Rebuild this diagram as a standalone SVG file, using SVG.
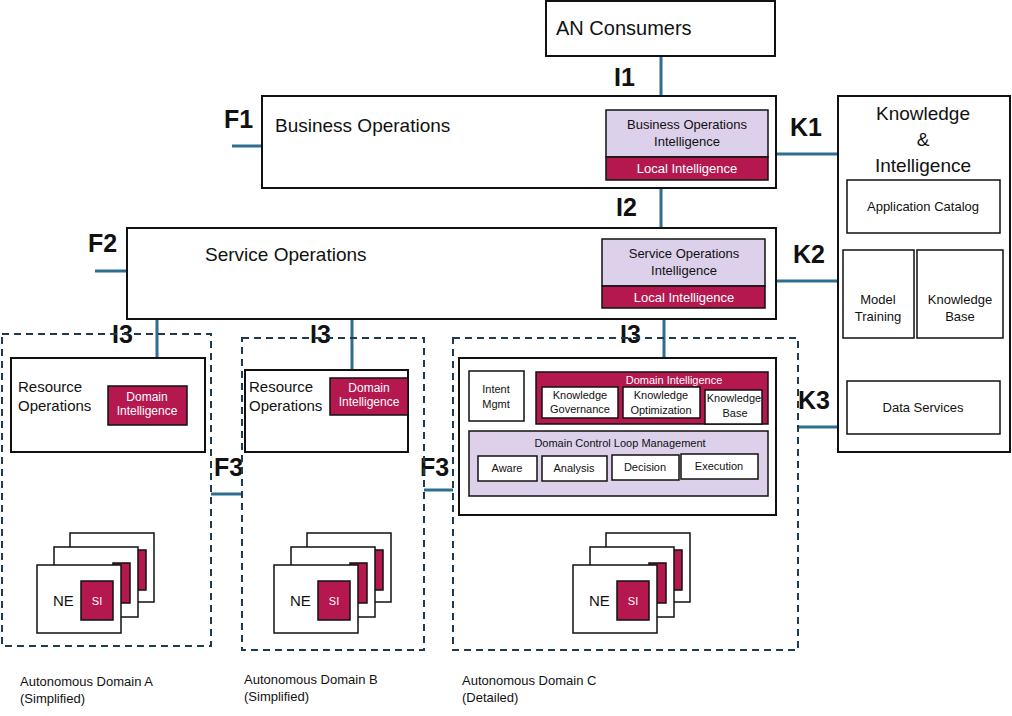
<svg xmlns="http://www.w3.org/2000/svg" width="1012" height="716" viewBox="0 0 1012 716">
<style>
text{font-family:"Liberation Sans",Arial,sans-serif;fill:#111}
.b{fill:#fff;stroke:#111;stroke-width:2}
.t{fill:#fff;stroke:#111;stroke-width:1.5}
.lav{fill:#dcd0ea;stroke:#111;stroke-width:1.5}
.cr{fill:#b5174f;stroke:#111;stroke-width:1.5}
.w{fill:#fff}
.d{fill:none;stroke:#1f3b4d;stroke-width:2;stroke-dasharray:7,5}
.c{stroke:#2e6e8e;stroke-width:3;fill:none}
.lb{font-weight:bold;font-size:25px}
.s{font-size:12px}
.m{font-size:13px}
</style>
<defs>
<g id="ne">
<rect class="t" x="33" y="0" width="84" height="69"/>
<rect class="cr" x="92" y="17" width="17" height="40"/>
<rect class="t" x="17" y="14" width="84" height="70"/>
<rect class="cr" x="76" y="30" width="17" height="40"/>
<rect class="t" x="0" y="32" width="84" height="68"/>
<rect class="cr" x="44" y="48" width="32" height="39"/>
<text x="16" y="73" font-size="15">NE</text>
<text x="60" y="72" font-size="11" class="w" text-anchor="middle">SI</text>
</g>
</defs>
<g id="connectors">
<path class="c" d="M661 56V96M661 188V228M232 146H262M95 271H127M776 154H838M776 281H838M157 319V358M352 319V370M664 319V358M798 427H838M211 494H242M424 490H453"/>
</g>
<g id="labels">
<text x="614" y="86" class="lb">I1</text>
<text x="616" y="216" class="lb">I2</text>
<text x="224" y="128" class="lb">F1</text>
<text x="88" y="252" class="lb">F2</text>
<text x="790" y="136" class="lb">K1</text>
<text x="793" y="263" class="lb">K2</text>
<text x="798" y="409" class="lb">K3</text>
<text x="112" y="343" class="lb">I3</text>
<text x="310" y="343" class="lb">I3</text>
<text x="620" y="343" class="lb">I3</text>
<text x="214" y="476" class="lb">F3</text>
<text x="420" y="476" class="lb">F3</text>
</g>
<g id="an-consumers"><rect class="b" x="546" y="1" width="229" height="55"/><text x="556" y="35" font-size="20">AN Consumers</text></g>
<g id="business-ops">
<rect class="b" x="262" y="96" width="514" height="92"/>
<text x="275" y="132" font-size="19">Business Operations</text>
<rect class="lav" x="606" y="110" width="162" height="47"/>
<text x="687" y="129" class="m" text-anchor="middle">Business Operations</text>
<text x="687" y="146" class="m" text-anchor="middle">Intelligence</text>
<rect class="cr" x="606" y="157" width="162" height="23"/>
<text x="687" y="173" class="m w" text-anchor="middle">Local Intelligence</text>
</g>
<g id="service-ops">
<rect class="b" x="127" y="228" width="649" height="91"/>
<text x="205" y="261" font-size="19">Service Operations</text>
<rect class="lav" x="602" y="239" width="163" height="47"/>
<text x="684" y="258" class="m" text-anchor="middle">Service Operations</text>
<text x="684" y="275" class="m" text-anchor="middle">Intelligence</text>
<rect class="cr" x="602" y="286" width="163" height="22"/>
<text x="684" y="302" class="m w" text-anchor="middle">Local Intelligence</text>
</g>
<g id="knowledge">
<rect class="b" x="838" y="96" width="172" height="356"/>
<text x="923" y="120" font-size="19" text-anchor="middle">Knowledge</text>
<text x="923" y="146" font-size="19" text-anchor="middle">&amp;</text>
<text x="923" y="172" font-size="19" text-anchor="middle">Intelligence</text>
<rect class="t" x="847" y="180" width="153" height="53"/>
<text x="923" y="211" class="m" text-anchor="middle">Application Catalog</text>
<rect class="t" x="843" y="250" width="71" height="88"/>
<text x="878" y="304" class="m" text-anchor="middle">Model</text>
<text x="878" y="321" class="m" text-anchor="middle">Training</text>
<rect class="t" x="917" y="250" width="86" height="88"/>
<text x="960" y="304" class="m" text-anchor="middle">Knowledge</text>
<text x="960" y="321" class="m" text-anchor="middle">Base</text>
<rect class="t" x="847" y="381" width="153" height="53"/>
<text x="923" y="412" class="m" text-anchor="middle">Data Services</text>
</g>
<g id="domain-a">
<rect class="d" x="2" y="334" width="209" height="312"/>
<rect class="b" x="11" y="358" width="194" height="94"/>
<text x="18" y="392" font-size="15">Resource</text>
<text x="18" y="411" font-size="15">Operations</text>
<rect class="cr" x="108" y="386" width="79" height="39"/>
<text x="147" y="401" class="s w" text-anchor="middle">Domain</text>
<text x="147" y="415" class="s w" text-anchor="middle">Intelligence</text>
<use href="#ne" x="37" y="533"/>
<text x="20" y="686" class="m">Autonomous Domain A</text>
<text x="20" y="703" class="m">(Simplified)</text>
</g>
<g id="domain-b">
<rect class="d" x="242" y="338" width="182" height="312"/>
<rect class="b" x="245" y="370" width="163" height="82"/>
<text x="249" y="392" font-size="15">Resource</text>
<text x="249" y="411" font-size="15">Operations</text>
<rect class="cr" x="330" y="378" width="78" height="37"/>
<text x="369" y="392" class="s w" text-anchor="middle">Domain</text>
<text x="369" y="406" class="s w" text-anchor="middle">Intelligence</text>
<use href="#ne" x="274" y="533"/>
<text x="244" y="684" class="m">Autonomous Domain B</text>
<text x="244" y="701" class="m">(Simplified)</text>
</g>
<g id="domain-c">
<rect class="d" x="453" y="338" width="345" height="312"/>
<rect class="b" x="459" y="358" width="317" height="157"/>
<rect class="t" x="469" y="371" width="55" height="50"/>
<text x="496" y="393" font-size="11" text-anchor="middle">Intent</text>
<text x="496" y="408" font-size="11" text-anchor="middle">Mgmt</text>
<rect class="cr" x="536" y="372" width="232" height="52"/>
<text x="674" y="384" font-size="11" class="w" text-anchor="middle">Domain Intelligence</text>
<rect class="t" x="542" y="387" width="76" height="31"/>
<text x="580" y="399" font-size="11" text-anchor="middle">Knowledge</text>
<text x="580" y="413" font-size="11" text-anchor="middle">Governance</text>
<rect class="t" x="623" y="387" width="77" height="31"/>
<text x="661" y="399" font-size="11" text-anchor="middle">Knowledge</text>
<text x="661" y="414" font-size="11" text-anchor="middle">Optimization</text>
<rect class="t" x="705" y="390" width="57" height="34"/>
<text x="734" y="402" font-size="11" text-anchor="middle">Knowledge</text>
<text x="735" y="417" font-size="11" text-anchor="middle">Base</text>
<rect class="lav" x="469" y="431" width="299" height="65"/>
<text x="620" y="447" font-size="11" text-anchor="middle">Domain Control Loop Management</text>
<rect class="t" x="478" y="456" width="59" height="25"/>
<text x="507" y="472" font-size="11" text-anchor="middle">Aware</text>
<rect class="t" x="542" y="456" width="65" height="25"/>
<text x="574" y="472" font-size="11" text-anchor="middle">Analysis</text>
<rect class="t" x="612" y="455" width="67" height="25"/>
<text x="645" y="471" font-size="11" text-anchor="middle">Decision</text>
<rect class="t" x="681" y="454" width="77" height="25"/>
<text x="719" y="470" font-size="11" text-anchor="middle">Execution</text>
<use href="#ne" x="573" y="533"/>
<text x="462" y="685" class="m">Autonomous Domain C</text>
<text x="462" y="702" class="m">(Detailed)</text>
</g>
</svg>
